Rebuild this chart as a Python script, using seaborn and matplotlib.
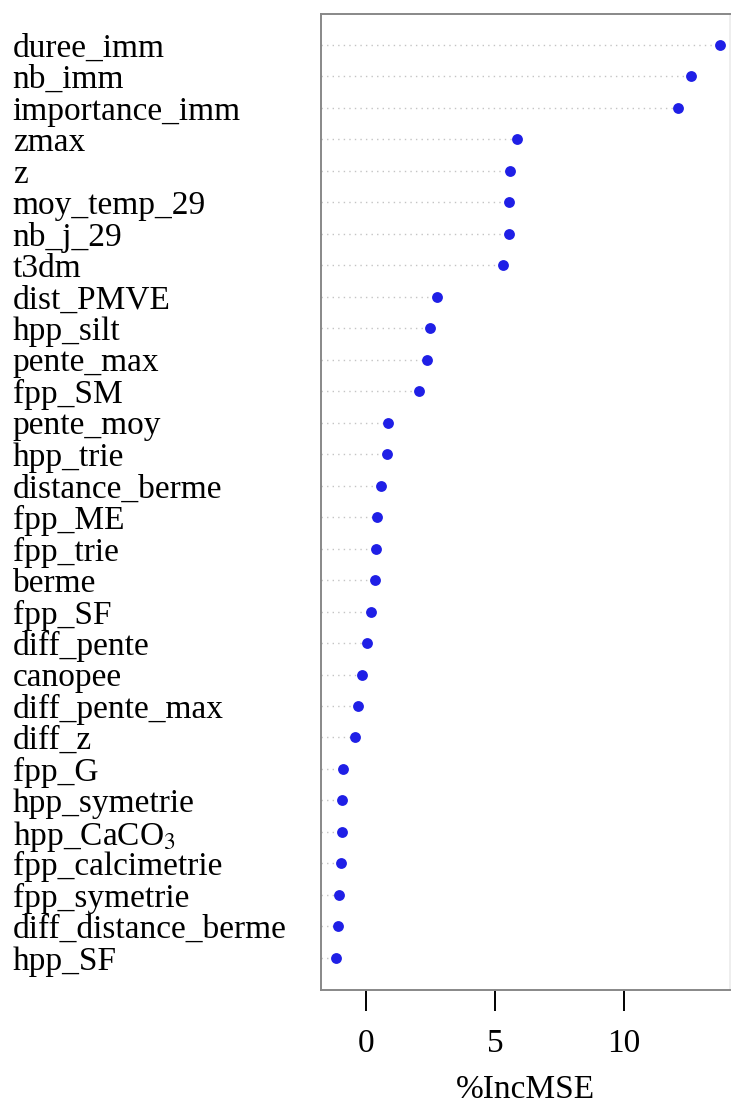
import matplotlib
matplotlib.use("Agg")
import matplotlib.pyplot as plt
import seaborn as sns
import pandas as pd

# variable importance (%IncMSE)
variables = [
    "duree_imm", "nb_imm", "importance_imm", "zmax", "z", "moy_temp_29",
    "nb_j_29", "t3dm", "dist_PMVE", "hpp_silt", "pente_max", "fpp_SM",
    "pente_moy", "hpp_trie", "distance_berme", "fpp_ME", "fpp_trie", "berme",
    "fpp_SF", "diff_pente", "canopee", "diff_pente_max", "diff_z", "fpp_G",
    "hpp_symetrie", "hpp_CaCO$_3$", "fpp_calcimetrie", "fpp_symetrie",
    "diff_distance_berme", "hpp_SF",
]
inc_mse = [
    13.74, 12.60, 12.10, 5.84, 5.60, 5.56,
    5.56, 5.33, 2.76, 2.49, 2.37, 2.06,
    0.86, 0.82, 0.58, 0.43, 0.39, 0.35,
    0.19, 0.04, -0.16, -0.31, -0.43, -0.89,
    -0.93, -0.93, -0.97, -1.05,
    -1.09, -1.17,
]
x_ticks = [0, 5, 10]

df = pd.DataFrame({"var": variables, "IncMSE": inc_mse})

sns.set_style("white")
plt.rcParams["font.family"] = ["Liberation Serif", "DejaVu Serif"]
plt.rcParams["mathtext.fontset"] = "stix"
plt.rcParams["text.color"] = "black"
plt.rcParams["xtick.color"] = "black"
plt.rcParams["ytick.color"] = "black"
plt.rcParams["axes.labelcolor"] = "black"

fig = plt.figure(figsize=(7.31, 11.04), dpi=100)
ax = fig.add_axes([321 / 731, 1 - 990 / 1104, 409 / 731, 976 / 1104])

x_left = -1.75
n = len(variables)
ax.hlines(range(n), x_left, df["IncMSE"], colors="#c4c4c4",
          linestyles=(0, (1, 3)), linewidth=1.0, zorder=1)
sns.stripplot(data=df, x="IncMSE", y="var", order=variables, jitter=False,
              color="#1f1fe6", size=7.8, linewidth=0, ax=ax, zorder=3)

ax.set_xlim(x_left, 14.12)
ax.set_ylim(n - 1 + 1.02, -0.98)
ax.set_xticks(x_ticks)
ax.set_xticklabels([str(t) for t in x_ticks], fontsize=24)
ax.set_xlabel("%IncMSE", fontsize=24, labelpad=11)
ax.set_ylabel("")

ax.tick_params(axis="x", direction="out", length=15, width=1.4,
               color="black", pad=13, bottom=True)
ax.tick_params(axis="y", length=0, pad=222, labelsize=24)
for lab in ax.get_yticklabels():
    lab.set_horizontalalignment("left")

for sp in ax.spines.values():
    sp.set_visible(True)
    sp.set_color("#888888")
    sp.set_linewidth(1.4)
ax.spines["right"].set_color("#eeeeee")

fig.savefig("out.png", dpi=100)
